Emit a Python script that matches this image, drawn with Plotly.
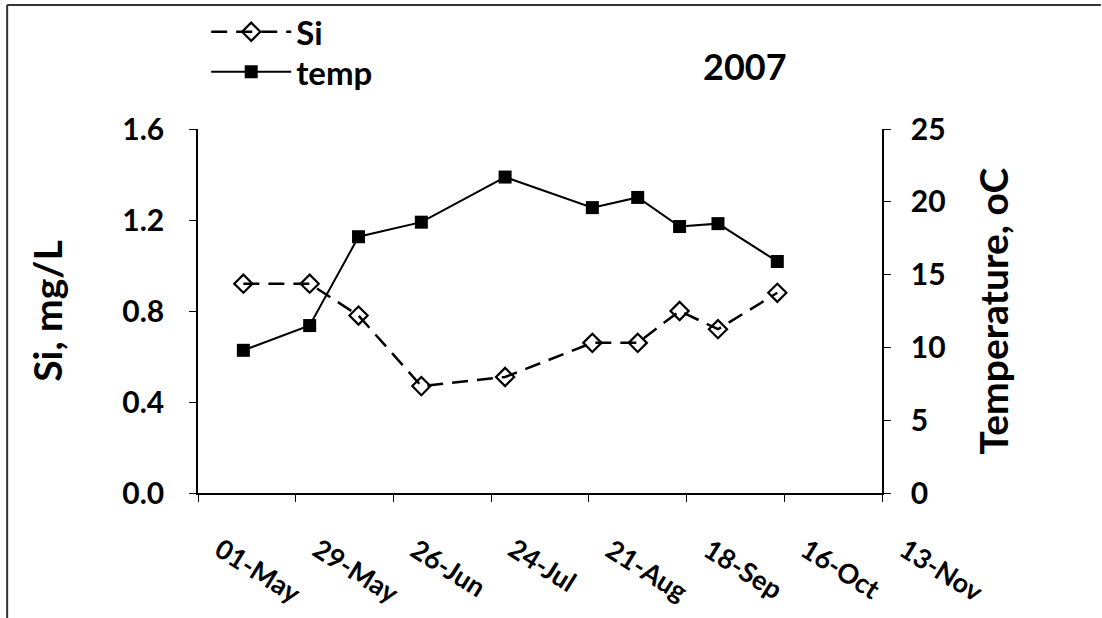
import plotly.graph_objects as go

# Sampling dates (2007) and measured values
dates = ["2007-05-14", "2007-06-02", "2007-06-16", "2007-07-04", "2007-07-28",
         "2007-08-22", "2007-09-04", "2007-09-16", "2007-09-27", "2007-10-14"]
si_mg_l = [0.92, 0.92, 0.78, 0.47, 0.51, 0.66, 0.66, 0.80, 0.72, 0.88]
temp_c = [9.8, 11.5, 17.6, 18.6, 21.7, 19.6, 20.3, 18.3, 18.5, 15.9]

tick_dates = ["2007-05-01", "2007-05-29", "2007-06-26", "2007-07-24",
              "2007-08-21", "2007-09-18", "2007-10-16", "2007-11-13"]
tick_text = ["01-May", "29-May", "26-Jun", "24-Jul", "21-Aug", "18-Sep", "16-Oct", "13-Nov"]
si_ticks = [0.0, 0.4, 0.8, 1.2, 1.6]
temp_ticks = [0, 5, 10, 15, 20, 25]

FONT = "Lato"


def bold(size):
    return dict(family=FONT, size=size, color="black", weight="bold")


fig = go.Figure()
fig.add_trace(go.Scatter(
    x=dates, y=si_mg_l, name="Si", mode="lines+markers", legend="legend",
    line=dict(color="black", width=2.5, dash="16px,9px"),
    marker=dict(symbol="diamond-open", size=14, color="black", line=dict(width=2.2)),
))
fig.add_trace(go.Scatter(
    x=dates, y=temp_c, name="temp", yaxis="y2", mode="lines+markers", legend="legend2",
    line=dict(color="black", width=2),
    marker=dict(symbol="square", size=13, color="black"),
))

axis_common = dict(showline=True, linecolor="black", linewidth=1.5, ticks="outside",
                   ticklen=7, tickcolor="black", tickwidth=1.2, showgrid=False,
                   zeroline=False, automargin=False)

# Slanted date labels under the ticks
date_labels = [
    dict(text=t, x=d, y=-0.098, xref="x", yref="paper", xanchor="left", yanchor="top",
         xshift=9, textangle=32, showarrow=False, font=bold(27))
    for d, t in zip(tick_dates, tick_text)
]

legend_common = dict(xanchor="left", yanchor="middle", yref="container",
                     bgcolor="rgba(0,0,0,0)", itemwidth=80, font=bold(33))

fig.update_layout(
    width=1102, height=618,
    margin=dict(l=198, r=220, t=129, b=125, autoexpand=False),
    paper_bgcolor="white", plot_bgcolor="white",
    font=dict(family=FONT, color="black"),
    xaxis=dict(
        type="date", range=[tick_dates[0], tick_dates[-1]],
        tickvals=tick_dates, showticklabels=False, **axis_common,
    ),
    yaxis=dict(
        range=[0, 1.6], tickvals=si_ticks, tickformat=".1f",
        ticklabelstandoff=19, tickfont=bold(30),
        title=dict(text="Si, mg/L", standoff=48, font=bold(39)),
        **axis_common,
    ),
    yaxis2=dict(
        range=[0, 25], tickvals=temp_ticks, overlaying="y", side="right",
        ticklabelstandoff=14, tickfont=bold(30),
        title=dict(text="Temperature, oC", standoff=36, font=bold(39)),
        **axis_common,
    ),
    legend=dict(x=0.012, y=0.9485, **legend_common),
    legend2=dict(x=0.012, y=0.884, **legend_common),
    annotations=date_labels + [dict(
        text="2007", x=0.80, y=1.173, xref="paper", yref="paper",
        xanchor="center", yanchor="middle",
        showarrow=False, font=bold(36),
    )],
    shapes=[
        dict(type="line", xref="paper", yref="paper", x0=-0.279, x1=1.32,
             y0=1.3407, y1=1.3407, line=dict(color="#333333", width=2)),
        dict(type="line", xref="paper", yref="paper", x0=-0.279, x1=-0.279,
             y0=1.3407, y1=-0.345, line=dict(color="#333333", width=2)),
    ],
    showlegend=True,
)

fig.write_html("out.html")
